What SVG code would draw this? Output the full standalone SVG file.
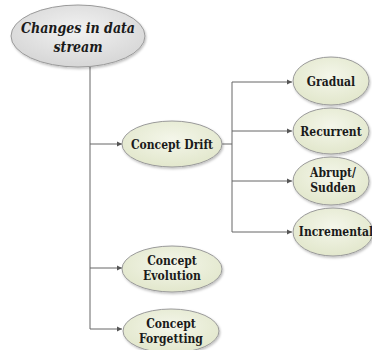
<svg xmlns="http://www.w3.org/2000/svg" width="372" height="350" viewBox="0 0 372 350">
<defs>
<radialGradient id="gRoot" cx="50%" cy="40%" r="60%">
<stop offset="0" stop-color="#f2f2f2"/><stop offset="1" stop-color="#d6d6d6"/>
</radialGradient>
<radialGradient id="gNode" cx="50%" cy="40%" r="60%">
<stop offset="0" stop-color="#f4f6ea"/><stop offset="1" stop-color="#e2e7cc"/>
</radialGradient>
<marker id="arr" markerWidth="6" markerHeight="6" refX="5" refY="3" orient="auto" markerUnits="userSpaceOnUse">
<path d="M0,0.5 L5,3 L0,5.5 z" fill="#555"/>
</marker>
<filter id="sh" x="-10%" y="-10%" width="125%" height="130%">
<feDropShadow dx="1" dy="1.5" stdDeviation="1" flood-color="#000" flood-opacity="0.25"/>
</filter>
</defs>
<style>
.n{fill:url(#gNode);stroke:#9a9a9a;stroke-width:1;filter:url(#sh)}
.r{fill:url(#gRoot);stroke:#9a9a9a;stroke-width:1;filter:url(#sh)}
.c{fill:none;stroke:#666;stroke-width:1}
.a{marker-end:url(#arr)}
.t{font-family:"DejaVu Serif Condensed","DejaVu Serif",serif;font-weight:bold;font-size:12px;fill:#1a1a1a;text-anchor:middle}
.ti{font-style:italic;font-size:14px}
</style>
<g id="connectors">
<path class="c" d="M90,66 V329"/>
<path class="c a" d="M90,144 H122"/>
<path class="c a" d="M90,268 H122"/>
<path class="c a" d="M90,329 H122"/>
<path class="c" d="M222,144 H232"/>
<path class="c" d="M232,82 V232"/>
<path class="c a" d="M232,82 H292"/>
<path class="c a" d="M232,131 H292"/>
<path class="c a" d="M232,181 H292"/>
<path class="c a" d="M232,232 H292"/>
</g>
<g id="root">
<ellipse class="r" cx="78" cy="36" rx="67" ry="31"/>
<text class="t ti" x="78" y="33">Changes in data</text>
<text class="t ti" x="78" y="52">stream</text>
</g>
<g id="drift">
<ellipse class="n" cx="172" cy="144" rx="50" ry="23"/>
<text class="t" x="172" y="148.5">Concept Drift</text>
</g>
<g id="evolution">
<ellipse class="n" cx="172" cy="269" rx="50" ry="23"/>
<text class="t" x="172" y="265">Concept</text>
<text class="t" x="172" y="280">Evolution</text>
</g>
<g id="forgetting">
<ellipse class="n" cx="171" cy="331" rx="48" ry="22"/>
<text class="t" x="171" y="328">Concept</text>
<text class="t" x="171" y="343">Forgetting</text>
</g>
<g id="gradual">
<ellipse class="n" cx="331" cy="81" rx="38" ry="24"/>
<text class="t" x="331" y="85.5">Gradual</text>
</g>
<g id="recurrent">
<ellipse class="n" cx="331" cy="131" rx="38" ry="23"/>
<text class="t" x="331" y="135.5">Recurrent</text>
</g>
<g id="abrupt">
<ellipse class="n" cx="331" cy="181" rx="38" ry="24"/>
<text class="t" x="333" y="177">Abrupt/</text>
<text class="t" x="333" y="192">Sudden</text>
</g>
<g id="incremental">
<ellipse class="n" cx="333" cy="232" rx="40" ry="24"/>
<text class="t" x="336" y="236" font-size="11.3">Incremental</text>
</g>
</svg>
